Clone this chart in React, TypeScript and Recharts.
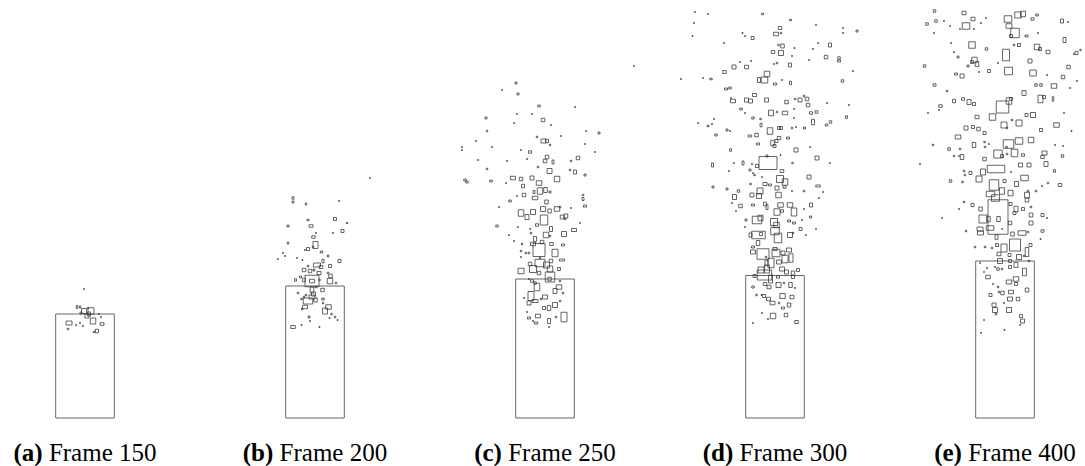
import React from "react";
import { ScatterChart, XAxis, YAxis, ReferenceArea } from "recharts";

type P = [number, number, number, number];

const frameLabels = ["(a)", "(b)", "(c)", "(d)", "(e)"];
const frameNumbers = [150, 200, 250, 300, 400];
const containerHalfWidth = 2.93;
const containerHeights = [10.4, 13.2, 13.9, 14.25, 15.7];
const xDomain: [number, number] = [-11.5, 11.5];
const yDomain: [number, number] = [0, 41.8];

// particle: [x centre, y centre, width, height]
const particles150: P[] = [
  [-0.8, 11.1, 0.15, 0.3], [-0.5, 11.1, 0.15, 0.2], [-0.1, 10.7, 0.5, 0.5], [0.6, 10.7, 0.6, 0.65],
  [0.2, 10.2, 0.4, 0.4], [0.4, 10.4, 0.3, 0.4], [0.8, 9.7, 0.55, 0.6], [-1.6, 9.5, 0.6, 0.4],
  [1.7, 9.4, 0.4, 0.25], [1.2, 8.7, 0.3, 0.35], [-1.7, 8.9, 0.15, 0.15], [-0.5, 9.5, 0.1, 0.1],
  [-0.2, 9.2, 0.1, 0.1], [-0.9, 9.3, 0.1, 0.1], [1.6, 10.1, 0.1, 0.1], [1.4, 10.4, 0.1, 0.1],
  [-0.4, 10.5, 0.2, 0.2], [0.9, 8.6, 0.15, 0.15], [0.3, 11.0, 0.1, 0.1], [-0.1, 12.9, 0.1, 0.1],
];

const particles200: P[] = [
  [-2.2, 22.0, 0.2, 0.25], [-2.2, 21.6, 0.2, 0.2], [-0.9, 21.4, 0.15, 0.2], [2.4, 21.7, 0.1, 0.1],
  [2.0, 19.9, 0.3, 0.3], [-0.7, 19.8, 0.2, 0.15], [3.2, 19.5, 0.15, 0.1], [-2.7, 19.2, 0.2, 0.2],
  [-0.4, 19.2, 0.4, 0.25], [2.75, 18.7, 0.3, 0.3], [1.8, 18.5, 0.1, 0.1], [0.1, 18.5, 0.1, 0.1],
  [-0.15, 18.1, 0.35, 0.25], [0.05, 17.3, 0.5, 0.7], [-2.7, 17.5, 0.15, 0.2], [-0.7, 16.9, 0.3, 0.3],
  [-0.2, 17.1, 0.15, 0.15], [0.65, 16.6, 0.25, 0.2], [-1.0, 16.8, 0.1, 0.1], [-3.0, 16.2, 0.1, 0.1],
  [-1.8, 16.0, 0.1, 0.1], [1.3, 16.2, 0.2, 0.15], [-1.25, 15.8, 0.1, 0.1], [-3.7, 15.9, 0.1, 0.1],
  [2.45, 15.7, 0.3, 0.3], [0.8, 15.7, 0.2, 0.35], [0.2, 15.3, 0.7, 0.4], [0.6, 15.1, 0.35, 0.3],
  [1.5, 15.2, 0.3, 0.3], [-0.7, 15.2, 0.15, 0.15], [-1.1, 14.8, 0.35, 0.35], [-0.5, 14.7, 0.35, 0.35],
  [-0.1, 14.8, 0.2, 0.2], [0.4, 14.5, 0.4, 0.3], [1.3, 14.5, 0.15, 0.15], [1.55, 14.2, 0.35, 0.35],
  [-1.45, 14.1, 0.2, 0.2], [-1.95, 13.8, 0.2, 0.25], [-1.1, 13.8, 0.3, 0.35], [-0.3, 13.7, 1.4, 1.15],
  [-0.3, 13.7, 0.5, 0.35], [1.5, 13.7, 0.55, 0.55], [0.45, 13.8, 0.15, 0.15], [2.1, 13.5, 0.15, 0.15],
  [0.1, 13.1, 0.15, 0.15], [-0.3, 12.8, 0.35, 0.6], [-1.7, 12.5, 0.15, 0.15], [-0.9, 12.3, 0.15, 0.15],
  [0.75, 12.8, 0.35, 0.35], [-0.15, 12.4, 0.4, 0.4], [-0.3, 12.1, 0.6, 0.4], [-0.7, 11.7, 0.95, 0.6],
  [0.05, 11.8, 0.35, 0.4], [-1.35, 11.9, 0.15, 0.15], [-1.1, 12.1, 0.15, 0.15], [0.8, 11.9, 0.25, 0.2],
  [0.8, 11.5, 0.15, 0.15], [-1.0, 11.1, 0.5, 0.35], [-1.3, 10.9, 0.15, 0.15], [1.35, 11.1, 0.55, 0.45],
  [1.0, 10.7, 0.5, 0.6], [2.0, 10.1, 0.15, 0.15], [1.65, 10.4, 0.15, 0.15], [2.25, 9.8, 0.1, 0.1],
  [-0.6, 10.1, 0.2, 0.2], [-0.5, 9.7, 0.1, 0.1], [-2.2, 9.1, 0.45, 0.3], [-1.35, 9.3, 0.1, 0.1],
  [0.45, 9.1, 0.1, 0.1], [1.45, 10.0, 0.1, 0.1], [5.5, 24.0, 0.1, 0.1], [-3.2, 16.5, 0.1, 0.1],
];

const particles250: P[] = [
  [-2.9, 33.5, 0.2, 0.2], [-4.3, 32.8, 0.1, 0.1], [-2.7, 32.4, 0.2, 0.2], [-0.6, 31.2, 0.25, 0.2],
  [3.0, 31.1, 0.1, 0.1], [-5.9, 30.0, 0.2, 0.2], [-2.8, 30.4, 0.1, 0.1], [-1.3, 30.4, 0.1, 0.1],
  [-0.2, 29.8, 0.35, 0.35], [-3.1, 29.5, 0.1, 0.1], [0.6, 29.3, 0.1, 0.1], [-5.8, 28.7, 0.15, 0.15],
  [4.1, 28.7, 0.1, 0.1], [5.4, 28.5, 0.2, 0.2], [-0.8, 28.1, 0.15, 0.15], [-0.15, 27.7, 0.5, 0.4],
  [0.2, 27.7, 0.3, 0.35], [1.6, 28.2, 0.1, 0.1], [-6.9, 27.7, 0.1, 0.1], [0.5, 27.3, 0.15, 0.15],
  [-8.3, 27.1, 0.1, 0.1], [-5.3, 27.1, 0.1, 0.1], [4.0, 27.4, 0.1, 0.1], [-2.4, 26.8, 0.1, 0.1],
  [-1.5, 26.6, 0.3, 0.25], [0.2, 26.1, 0.35, 0.35], [0.0, 25.7, 0.35, 0.35], [0.8, 25.6, 0.2, 0.4],
  [-1.8, 25.9, 0.1, 0.1], [2.6, 25.7, 0.15, 0.15], [3.3, 26.0, 0.35, 0.35], [5.0, 26.6, 0.1, 0.1],
  [-3.8, 25.7, 0.1, 0.1], [-0.7, 25.1, 0.15, 0.15], [0.45, 24.7, 0.5, 0.5], [-5.8, 24.9, 0.15, 0.15],
  [2.5, 24.8, 0.15, 0.15], [3.0, 24.6, 0.3, 0.4], [4.0, 24.3, 0.2, 0.2], [1.2, 23.9, 0.55, 0.55],
  [-3.2, 24.0, 0.5, 0.35], [-2.4, 23.9, 0.35, 0.35], [-1.3, 24.0, 0.4, 0.4], [-8.0, 23.8, 0.25, 0.2],
  [-5.4, 23.7, 0.25, 0.2], [-3.9, 23.5, 0.1, 0.1], [-0.6, 23.5, 0.55, 0.45], [-2.2, 23.2, 0.3, 0.35],
  [-0.5, 22.7, 0.55, 0.65], [0.05, 22.8, 0.35, 0.5], [0.5, 22.6, 0.2, 0.2], [-1.1, 22.6, 0.2, 0.3],
  [-2.1, 22.3, 0.35, 0.35], [-2.8, 22.2, 0.1, 0.1], [-1.0, 22.0, 0.55, 0.35], [3.8, 22.3, 0.15, 0.15],
  [3.8, 21.9, 0.2, 0.3], [0.15, 21.6, 0.35, 0.4], [-3.5, 21.7, 0.25, 0.2], [4.0, 21.2, 0.3, 0.2],
  [-4.6, 21.1, 0.1, 0.1], [-2.4, 20.5, 0.55, 0.65], [-1.8, 20.1, 0.4, 0.5], [-1.2, 20.6, 0.5, 0.5],
  [-0.2, 20.9, 0.5, 0.5], [0.45, 20.7, 0.35, 0.4], [1.2, 20.9, 0.55, 0.45], [1.5, 21.1, 0.15, 0.15],
  [-0.1, 19.8, 0.75, 1.0], [1.7, 20.1, 0.35, 0.4], [2.1, 20.2, 0.35, 0.4], [2.0, 19.9, 0.15, 0.15],
  [2.6, 21.0, 0.1, 0.1], [3.5, 19.5, 0.1, 0.1], [2.9, 18.8, 0.5, 0.3], [-4.8, 19.2, 0.25, 0.2],
  [-2.7, 19.1, 0.1, 0.1], [-0.8, 19.3, 0.3, 0.25], [0.6, 18.9, 0.3, 0.5], [-1.5, 18.9, 0.1, 0.1],
  [1.9, 18.4, 0.5, 0.5], [0.1, 18.3, 0.55, 0.55], [0.5, 18.2, 0.15, 0.15], [-3.6, 18.3, 0.1, 0.1],
  [-1.4, 18.5, 0.15, 0.15], [-1.0, 17.9, 0.3, 0.5], [-3.1, 17.7, 0.1, 0.1], [-0.3, 17.6, 0.35, 0.35],
  [-2.3, 17.4, 0.15, 0.15], [-1.2, 17.4, 0.5, 0.35], [0.65, 17.4, 0.35, 0.3], [1.8, 17.3, 0.3, 0.2],
  [-0.6, 16.8, 1.2, 1.3], [1.0, 16.5, 0.6, 0.75], [-2.4, 16.7, 0.15, 0.15], [-1.9, 16.5, 0.15, 0.15],
  [-2.4, 16.1, 0.1, 0.1], [-1.6, 16.5, 0.15, 0.15], [1.7, 15.8, 0.5, 0.2], [-0.5, 16.0, 0.15, 0.15],
  [-1.5, 15.4, 0.35, 0.35], [-0.5, 15.5, 1.0, 0.75], [0.15, 15.3, 0.6, 0.6], [0.6, 15.7, 0.35, 0.35],
  [-1.2, 14.9, 0.7, 0.7], [-2.4, 14.7, 0.6, 0.55], [-0.6, 14.5, 0.35, 0.35], [0.5, 14.9, 0.55, 0.6],
  [1.4, 14.9, 0.3, 0.3], [0.5, 14.1, 0.95, 1.0], [0.45, 13.9, 0.35, 0.35], [-1.3, 13.7, 0.3, 0.25],
  [-1.6, 13.9, 0.1, 0.1], [-1.0, 13.5, 0.25, 0.25], [1.5, 13.7, 0.15, 0.15], [-0.8, 13.1, 0.55, 0.75],
  [1.4, 13.1, 0.55, 0.45], [1.0, 12.7, 0.4, 0.5], [1.8, 12.5, 0.15, 0.15], [-1.4, 12.2, 0.6, 0.9],
  [0.0, 12.1, 0.5, 0.4], [-0.4, 11.9, 0.15, 0.15], [-2.1, 12.0, 0.1, 0.1], [1.5, 11.7, 0.15, 0.15],
  [-1.6, 11.5, 0.4, 0.4], [-1.0, 11.7, 0.6, 0.3], [1.0, 11.3, 0.5, 0.5], [0.4, 11.0, 0.35, 0.5],
  [-0.1, 11.0, 0.3, 0.3], [-0.7, 10.2, 0.5, 0.35], [1.9, 10.1, 0.6, 0.95], [-1.6, 10.0, 0.3, 0.2],
  [0.4, 9.7, 0.3, 0.5], [-0.9, 9.5, 0.35, 0.2], [1.1, 10.1, 0.15, 0.15], [-1.2, 9.7, 0.1, 0.1],
  [0.4, 9.1, 0.1, 0.1], [-1.8, 10.6, 0.1, 0.1], [-7.8, 23.6, 0.25, 0.2], [-8.3, 26.8, 0.1, 0.1],
  [8.9, 35.2, 0.1, 0.1], [-6.7, 25.8, 0.1, 0.1],
];

const particles300: P[] = [
  [-8.0, 40.6, 0.1, 0.1], [-6.7, 40.4, 0.1, 0.1], [-1.25, 40.4, 0.2, 0.15], [1.55, 39.8, 0.2, 0.15],
  [-8.1, 39.5, 0.1, 0.1], [4.1, 39.3, 0.1, 0.1], [0.5, 39.0, 0.35, 0.3], [6.8, 39.0, 0.1, 0.1],
  [8.2, 38.7, 0.2, 0.2], [0.1, 38.4, 0.5, 0.35], [0.6, 38.5, 0.15, 0.15], [-3.25, 38.5, 0.1, 0.1],
  [-3.0, 38.2, 0.1, 0.1], [-2.25, 38.0, 0.3, 0.3], [6.8, 38.5, 0.1, 0.1], [-8.25, 38.2, 0.1, 0.1],
  [-5.1, 37.5, 0.1, 0.1], [0.75, 37.2, 0.35, 0.4], [0.35, 37.3, 0.15, 0.15], [4.3, 37.5, 0.1, 0.1],
  [5.5, 37.3, 0.3, 0.4], [1.95, 37.0, 0.1, 0.1], [3.8, 36.9, 0.1, 0.1], [-0.2, 36.6, 0.35, 0.3],
  [0.6, 36.5, 0.5, 0.5], [5.1, 36.1, 0.35, 0.35], [6.4, 36.0, 0.25, 0.25], [6.4, 35.7, 0.3, 0.2],
  [1.7, 36.2, 0.1, 0.1], [3.4, 35.8, 0.1, 0.1], [-2.4, 35.7, 0.1, 0.1], [0.2, 35.5, 0.15, 0.15],
  [-4.1, 35.1, 0.4, 0.4], [-2.85, 35.1, 0.4, 0.35], [1.5, 35.3, 0.3, 0.4], [-5.05, 34.6, 0.35, 0.3],
  [-3.5, 35.6, 0.1, 0.1], [-0.1, 35.4, 0.1, 0.1], [-0.8, 34.4, 0.55, 0.55], [-1.05, 33.8, 0.65, 0.6],
  [-1.6, 33.8, 0.3, 0.5], [-9.4, 33.9, 0.1, 0.1], [-7.2, 34.0, 0.1, 0.1], [-6.4, 33.9, 0.25, 0.15],
  [0.7, 33.8, 0.1, 0.1], [1.55, 33.5, 0.2, 0.35], [0.0, 33.4, 0.3, 0.2], [6.75, 33.7, 0.25, 0.25],
  [7.8, 34.7, 0.1, 0.1], [-4.9, 32.9, 0.3, 0.2], [-4.5, 33.0, 0.25, 0.2], [-2.05, 32.3, 0.4, 0.3],
  [-4.2, 31.7, 0.5, 0.35], [-4.4, 32.0, 0.1, 0.1], [-2.85, 31.8, 0.4, 0.4], [-2.45, 31.7, 0.4, 0.4],
  [-0.85, 31.8, 0.4, 0.4], [1.15, 31.6, 0.35, 0.35], [2.0, 31.9, 0.15, 0.15], [2.5, 31.8, 0.4, 0.4],
  [3.2, 31.9, 0.35, 0.35], [3.3, 31.3, 0.35, 0.35], [2.9, 32.2, 0.15, 0.15], [5.2, 31.5, 0.1, 0.1],
  [7.4, 31.3, 0.1, 0.1], [-3.4, 30.9, 0.25, 0.2], [-3.0, 30.5, 0.1, 0.1], [-0.4, 30.5, 0.5, 0.55],
  [0.2, 30.6, 0.15, 0.15], [1.0, 30.5, 0.55, 0.35], [1.9, 30.9, 0.1, 0.1], [3.6, 30.5, 0.3, 0.25],
  [4.15, 30.6, 0.3, 0.25], [-2.2, 30.0, 0.25, 0.2], [-1.45, 29.9, 0.15, 0.15], [1.9, 30.0, 0.1, 0.1],
  [-6.1, 29.9, 0.1, 0.1], [-7.7, 29.5, 0.1, 0.1], [-6.7, 29.2, 0.2, 0.15], [-6.3, 29.4, 0.1, 0.1],
  [-1.4, 29.3, 0.2, 0.35], [3.8, 29.6, 0.3, 0.55], [5.15, 29.3, 0.25, 0.2], [5.55, 29.6, 0.25, 0.25],
  [7.15, 30.1, 0.2, 0.25], [-4.8, 28.8, 0.2, 0.2], [-4.5, 28.7, 0.1, 0.1], [-0.5, 28.7, 0.55, 0.65],
  [0.4, 29.0, 0.3, 0.3], [0.6, 29.0, 0.3, 0.3], [1.7, 29.0, 0.15, 0.15], [2.1, 29.1, 0.1, 0.1],
  [2.95, 29.0, 0.2, 0.2], [-5.9, 28.3, 0.25, 0.2], [-2.5, 28.2, 0.35, 0.2], [-1.85, 28.3, 0.35, 0.35],
  [0.4, 28.0, 0.35, 0.3], [1.3, 28.0, 0.3, 0.2], [-0.25, 27.5, 0.35, 0.55], [0.15, 27.7, 0.3, 0.3],
  [-1.7, 27.4, 0.3, 0.2], [-0.05, 27.2, 0.3, 0.3], [2.1, 26.8, 0.4, 0.4], [-4.45, 26.8, 0.2, 0.25],
  [3.5, 27.1, 0.1, 0.1], [4.2, 26.0, 0.4, 0.4], [0.55, 26.3, 0.1, 0.1], [-0.7, 25.5, 1.8, 1.3],
  [-0.8, 26.2, 0.2, 0.2], [-3.2, 25.5, 0.2, 0.4], [-4.1, 25.5, 0.1, 0.1], [-1.8, 25.2, 0.3, 0.3],
  [-2.3, 25.4, 0.1, 0.1], [-6.25, 25.3, 0.2, 0.4], [1.75, 25.5, 0.15, 0.15], [0.7, 24.7, 0.35, 0.3],
  [-2.5, 24.8, 0.2, 0.2], [-2.2, 24.5, 0.1, 0.1], [-4.6, 24.7, 0.1, 0.1], [5.5, 25.5, 0.1, 0.1],
  [3.4, 24.1, 0.4, 0.4], [-2.05, 24.3, 0.15, 0.15], [-1.3, 24.1, 0.1, 0.1], [0.5, 23.9, 0.7, 0.7],
  [1.0, 23.6, 0.55, 0.65], [-1.0, 23.4, 0.4, 0.3], [-0.5, 23.3, 0.3, 0.2], [4.3, 23.2, 0.45, 0.2],
  [-2.45, 23.4, 0.15, 0.15], [-6.2, 23.1, 0.2, 0.2], [-4.8, 22.9, 0.2, 0.2], [-3.65, 22.7, 0.25, 0.25],
  [-1.5, 22.7, 0.6, 0.6], [0.2, 23.0, 0.4, 0.4], [0.95, 23.1, 0.3, 0.25], [1.7, 22.7, 0.1, 0.1],
  [2.9, 22.7, 0.15, 0.15], [4.8, 22.6, 0.1, 0.1], [-4.05, 22.1, 0.4, 0.5], [-2.3, 22.3, 0.4, 0.4],
  [-1.6, 22.2, 0.5, 0.5], [0.35, 22.3, 0.55, 0.55], [4.4, 22.0, 0.1, 0.1], [-4.3, 21.5, 0.1, 0.1],
  [-3.45, 21.2, 0.35, 0.35], [-2.2, 21.3, 0.3, 0.2], [-1.0, 21.4, 0.3, 0.35], [-0.8, 21.1, 0.2, 0.5],
  [0.55, 21.3, 0.55, 0.45], [1.5, 21.3, 0.55, 0.45], [1.9, 20.6, 0.55, 0.8], [0.2, 20.6, 0.6, 0.65],
  [0.7, 20.7, 0.3, 0.25], [3.6, 21.3, 0.3, 0.4], [2.9, 20.9, 0.1, 0.1], [3.55, 20.1, 0.2, 0.2],
  [2.7, 19.8, 0.1, 0.1], [-3.9, 20.7, 0.1, 0.1], [-1.45, 20.0, 0.5, 0.55], [-1.8, 19.8, 0.95, 0.75],
  [-2.9, 19.8, 0.2, 0.2], [-3.0, 19.1, 0.1, 0.1], [-0.1, 19.6, 0.7, 0.7], [0.15, 19.3, 0.55, 0.55],
  [1.4, 19.7, 0.3, 0.2], [1.9, 19.5, 0.3, 0.2], [2.55, 18.9, 0.3, 0.3], [4.1, 18.9, 0.1, 0.1],
  [-1.65, 18.3, 1.35, 0.75], [-2.45, 18.3, 0.3, 0.4], [-1.4, 18.4, 0.3, 0.3], [0.0, 18.7, 0.85, 0.75],
  [0.3, 18.0, 0.75, 0.95], [1.5, 18.3, 0.5, 0.5], [1.8, 18.5, 0.15, 0.15], [3.1, 18.3, 0.1, 0.1],
  [-1.7, 17.5, 0.35, 0.5], [-2.2, 17.1, 0.3, 0.2], [-2.2, 16.6, 0.5, 0.4], [-1.2, 16.4, 1.2, 1.05],
  [0.0, 16.9, 0.4, 0.3], [0.1, 16.5, 0.8, 0.75], [0.8, 16.5, 0.4, 0.4], [1.4, 16.8, 0.5, 0.4],
  [1.6, 16.0, 0.4, 0.85], [1.0, 15.9, 0.6, 0.75], [-0.9, 16.1, 0.15, 0.15], [-0.4, 15.5, 0.6, 0.95],
  [-0.85, 15.5, 0.3, 0.55], [0.4, 15.6, 0.5, 0.4], [-1.4, 14.8, 0.6, 0.6], [-0.8, 14.9, 0.5, 0.8],
  [-1.05, 14.3, 1.45, 1.0], [0.7, 14.9, 0.5, 0.4], [1.15, 14.6, 0.4, 0.4], [1.8, 14.5, 0.35, 0.4],
  [2.3, 14.8, 0.3, 0.3], [1.8, 14.1, 0.3, 0.3], [-2.05, 14.2, 0.3, 0.3], [0.3, 14.1, 0.3, 0.25],
  [-0.45, 13.9, 0.4, 0.8], [-1.0, 13.4, 0.35, 0.3], [0.35, 13.3, 0.5, 0.5], [1.55, 13.3, 0.35, 0.5],
  [-0.6, 13.1, 0.4, 0.35], [-2.2, 13.1, 0.25, 0.2], [0.9, 13.5, 0.15, 0.15], [2.0, 13.0, 0.1, 0.1],
  [0.75, 12.2, 0.55, 0.5], [1.7, 12.1, 0.4, 0.35], [-0.65, 11.9, 0.4, 0.35], [-1.1, 12.2, 0.3, 0.3],
  [-1.85, 12.3, 0.15, 0.15], [-0.25, 11.5, 0.5, 0.35], [0.4, 11.5, 0.15, 0.15], [1.4, 11.3, 0.35, 0.4],
  [0.8, 11.0, 0.3, 0.2], [-0.2, 10.2, 0.55, 0.55], [1.1, 10.3, 0.35, 0.35], [-1.3, 10.5, 0.1, 0.1],
  [-0.7, 9.9, 0.1, 0.1], [2.15, 9.6, 0.35, 0.3], [-2.2, 9.5, 0.1, 0.1], [-1.35, 12.3, 0.1, 0.1],
];

const particles400: P[] = [
  [-7.05, 40.7, 0.25, 0.25], [-4.1, 40.5, 0.4, 0.35], [1.3, 40.3, 0.65, 0.6], [1.8, 40.4, 0.5, 0.55],
  [3.2, 40.3, 0.25, 0.2], [0.3, 39.9, 0.75, 0.65], [-3.2, 39.9, 0.4, 0.35], [-1.9, 40.0, 0.1, 0.1],
  [2.75, 39.9, 0.3, 0.25], [5.7, 39.7, 0.3, 0.4], [6.3, 39.6, 0.1, 0.1], [-7.8, 39.4, 0.25, 0.25],
  [-6.9, 39.7, 0.25, 0.25], [-6.1, 39.7, 0.1, 0.1], [-5.5, 39.2, 0.1, 0.1], [-3.9, 39.2, 0.75, 0.65],
  [-4.5, 38.9, 0.1, 0.1], [-3.1, 38.9, 0.1, 0.1], [-2.4, 39.5, 0.1, 0.1], [0.4, 39.2, 0.6, 0.45],
  [1.0, 38.5, 0.85, 0.95], [0.6, 38.2, 0.3, 0.3], [2.15, 38.2, 0.3, 0.2], [3.3, 38.5, 0.1, 0.1],
  [5.95, 37.8, 0.3, 0.5], [8.1, 38.3, 0.1, 0.1], [-7.1, 38.5, 0.1, 0.1], [-5.4, 37.5, 0.1, 0.1],
  [-3.3, 37.3, 0.65, 0.65], [-1.85, 36.9, 0.25, 0.25], [1.4, 37.3, 0.3, 0.3], [0.9, 37.3, 0.15, 0.15],
  [3.2, 37.1, 0.55, 0.55], [3.5, 36.9, 0.3, 0.3], [4.3, 36.6, 0.4, 0.35], [7.15, 36.5, 0.3, 0.3],
  [7.55, 36.8, 0.15, 0.15], [6.9, 36.4, 0.1, 0.1], [0.1, 36.3, 0.7, 1.15], [-5.1, 36.6, 0.1, 0.1],
  [-4.7, 36.1, 0.2, 0.2], [-3.05, 35.8, 0.55, 0.55], [-2.8, 35.4, 0.35, 0.5], [-3.3, 35.6, 0.3, 0.3],
  [-3.7, 35.2, 0.2, 0.2], [2.5, 35.7, 0.4, 0.4], [-0.7, 35.5, 0.1, 0.1], [6.35, 35.1, 0.35, 0.35],
  [-8.05, 35.2, 0.25, 0.25], [-4.3, 34.2, 0.4, 0.4], [-4.9, 34.4, 0.3, 0.2], [-2.6, 34.6, 0.1, 0.1],
  [-1.6, 34.7, 0.3, 0.3], [0.35, 34.7, 0.8, 0.75], [2.8, 34.5, 0.65, 0.6], [4.2, 34.3, 0.1, 0.1],
  [5.8, 34.1, 0.35, 0.35], [-7.05, 33.3, 0.3, 0.25], [3.1, 33.3, 0.25, 0.25], [3.6, 33.3, 0.25, 0.25],
  [4.9, 33.2, 0.55, 0.45], [6.5, 33.0, 0.1, 0.1], [7.2, 33.7, 0.1, 0.1], [-5.8, 32.7, 0.15, 0.15],
  [1.9, 32.5, 0.4, 0.5], [-4.2, 31.9, 0.3, 0.25], [-3.6, 31.6, 0.4, 0.5], [-3.1, 31.4, 0.3, 0.3],
  [-5.1, 31.7, 0.3, 0.35], [-6.45, 31.2, 0.35, 0.25], [-6.6, 30.8, 0.1, 0.1], [0.6, 31.9, 0.3, 0.3],
  [0.4, 31.7, 0.55, 0.65], [-0.25, 31.1, 1.25, 1.2], [3.55, 31.9, 0.5, 0.75], [3.9, 32.1, 0.3, 0.3],
  [4.8, 31.9, 0.15, 0.45], [-7.7, 30.5, 0.1, 0.1], [-2.8, 30.1, 0.4, 0.35], [-1.25, 30.1, 0.65, 0.65],
  [2.15, 30.3, 0.3, 0.3], [2.8, 30.3, 0.5, 0.5], [5.9, 30.5, 0.1, 0.1], [-3.9, 29.0, 0.4, 0.4],
  [-3.2, 29.1, 0.3, 0.3], [-2.65, 28.9, 0.35, 0.35], [-2.05, 28.5, 0.3, 0.3], [-0.1, 29.3, 0.6, 0.6],
  [0.2, 29.0, 0.15, 0.15], [1.4, 29.5, 0.6, 0.6], [0.7, 29.8, 0.15, 0.15], [3.6, 28.8, 0.3, 0.3],
  [5.15, 29.3, 0.55, 0.45], [6.65, 28.7, 0.1, 0.1], [-4.7, 28.1, 0.55, 0.4], [0.35, 27.4, 1.05, 0.85],
  [1.4, 27.7, 0.75, 0.65], [0.15, 27.1, 0.15, 0.15], [2.6, 27.8, 0.55, 0.55], [-3.1, 27.3, 0.35, 0.5],
  [-2.05, 27.6, 0.15, 0.15], [-2.0, 27.1, 0.15, 0.15], [-1.6, 27.4, 0.1, 0.1], [-7.2, 27.3, 0.15, 0.15],
  [-5.6, 26.9, 0.25, 0.25], [-4.5, 26.9, 0.15, 0.15], [-5.1, 26.2, 0.15, 0.15], [-4.3, 26.1, 0.35, 0.5],
  [-4.6, 26.2, 0.1, 0.1], [-2.05, 25.9, 0.35, 0.35], [-0.7, 26.4, 0.85, 0.8], [-0.3, 26.2, 0.3, 0.3],
  [0.2, 26.4, 0.15, 0.15], [0.95, 26.5, 0.65, 0.75], [1.8, 26.3, 0.3, 0.25], [3.95, 26.5, 0.5, 0.4],
  [3.75, 26.1, 0.35, 0.3], [5.0, 27.3, 0.1, 0.1], [5.8, 27.2, 0.1, 0.1], [5.75, 26.2, 0.25, 0.25],
  [4.1, 25.4, 0.4, 0.5], [1.55, 25.3, 0.4, 0.4], [2.4, 25.3, 0.4, 0.4], [-0.9, 24.9, 1.75, 0.75],
  [-2.2, 24.6, 0.5, 0.6], [-3.45, 24.5, 0.3, 0.3], [-4.1, 24.7, 0.15, 0.15], [-4.0, 24.3, 0.15, 0.15],
  [4.95, 24.7, 0.2, 0.25], [0.6, 24.6, 0.1, 0.1], [-8.5, 25.4, 0.1, 0.1], [-5.45, 23.7, 0.25, 0.25],
  [-4.25, 23.6, 0.15, 0.15], [-2.6, 23.9, 0.6, 0.6], [-1.1, 23.3, 0.95, 1.05], [-0.05, 23.7, 0.3, 0.3],
  [1.15, 23.4, 0.4, 0.5], [1.95, 24.0, 0.75, 0.55], [4.3, 23.5, 0.15, 0.15], [5.5, 23.3, 0.35, 0.3],
  [3.7, 23.2, 0.1, 0.1], [-0.3, 22.7, 0.5, 0.65], [0.55, 22.5, 0.5, 0.55], [-1.45, 22.4, 0.85, 0.55],
  [-0.95, 22.0, 0.8, 0.65], [2.2, 22.3, 0.5, 0.55], [2.3, 22.7, 0.15, 0.15], [3.1, 22.7, 0.15, 0.15],
  [2.2, 21.8, 0.35, 0.4], [-0.7, 20.1, 2.0, 3.45], [-3.25, 21.3, 0.3, 0.3], [-2.45, 20.9, 0.35, 0.4],
  [-4.1, 21.6, 0.15, 0.15], [-4.6, 20.9, 0.1, 0.1], [0.55, 21.4, 0.3, 0.3], [1.1, 20.9, 0.4, 0.55],
  [0.95, 20.5, 0.3, 0.3], [1.8, 20.9, 0.3, 0.3], [2.6, 21.1, 0.15, 0.15], [2.6, 20.3, 0.35, 0.4],
  [3.75, 20.3, 0.3, 0.3], [4.2, 20.0, 0.1, 0.1], [-6.3, 20.0, 0.1, 0.1], [-2.2, 19.9, 0.8, 0.8],
  [-1.65, 19.9, 0.35, 0.55], [-0.65, 19.9, 0.35, 0.5], [0.5, 19.5, 0.35, 0.35], [2.6, 19.5, 0.4, 0.4],
  [-2.5, 18.9, 0.6, 0.4], [-1.5, 19.0, 0.75, 0.45], [-2.45, 18.5, 0.6, 0.4], [-3.9, 18.7, 0.15, 0.15],
  [-0.3, 18.9, 0.1, 0.1], [3.75, 18.7, 0.3, 0.25], [3.55, 17.9, 0.1, 0.1], [0.75, 18.4, 0.35, 0.4],
  [1.7, 18.5, 0.8, 0.45], [2.3, 18.6, 0.15, 0.15], [-0.85, 18.1, 0.3, 0.45], [-0.8, 17.3, 0.3, 0.3],
  [1.0, 17.3, 1.1, 1.2], [-0.1, 17.0, 0.6, 0.8], [-2.0, 17.1, 0.15, 0.15], [-3.0, 17.1, 0.15, 0.15],
  [-1.3, 17.0, 0.15, 0.15], [2.55, 17.3, 0.3, 0.3], [2.2, 16.6, 0.35, 0.9], [1.4, 16.1, 0.5, 0.5],
  [0.45, 16.3, 0.3, 0.3], [-0.6, 16.4, 0.4, 0.35], [0.5, 15.7, 0.3, 0.3], [-0.5, 15.7, 0.5, 0.5],
  [1.9, 16.2, 0.15, 0.15], [2.4, 15.7, 0.15, 0.15], [1.1, 15.3, 0.4, 0.5], [0.5, 15.1, 0.3, 0.3],
  [-1.0, 15.1, 0.1, 0.1], [-0.7, 14.9, 0.25, 0.25], [-1.8, 15.0, 0.1, 0.1], [-2.5, 15.5, 0.1, 0.1],
  [-2.1, 14.6, 0.1, 0.1], [-0.3, 14.9, 0.15, 0.15], [1.95, 14.6, 0.4, 0.75], [-1.7, 14.1, 0.45, 0.35],
  [0.4, 13.6, 0.55, 0.4], [1.1, 13.9, 0.55, 0.45], [1.1, 13.4, 0.3, 0.3], [-1.2, 13.4, 0.1, 0.1],
  [-0.7, 13.1, 0.15, 0.15], [2.2, 12.8, 0.35, 0.4], [0.6, 12.6, 0.5, 0.35], [-0.25, 12.5, 0.35, 0.35],
  [-0.6, 12.6, 0.15, 0.15], [-1.45, 12.3, 0.3, 0.3], [0.5, 11.9, 0.5, 0.4], [1.3, 11.9, 0.35, 0.35],
  [-0.1, 11.5, 0.1, 0.1], [-1.1, 11.3, 0.4, 0.4], [-1.0, 10.8, 0.5, 0.5], [0.4, 10.8, 0.5, 0.5],
  [-0.9, 10.4, 0.15, 0.15], [1.6, 10.2, 0.3, 0.3], [1.75, 9.7, 0.4, 0.4], [1.5, 9.3, 0.1, 0.1],
  [-2.1, 9.8, 0.1, 0.1], [-0.05, 8.8, 0.1, 0.1], [-2.4, 8.5, 0.1, 0.1],
];

const allParticles: P[][] = [particles150, particles200, particles250, particles300, particles400];

const CHART_W = 230;
const CHART_H = 420;
const panelCenters = [85, 315, 545, 775, 1005];

function Panel({ index }: { index: number }) {
  const parts = allParticles[index];
  return (
    <ScatterChart
      width={CHART_W}
      height={CHART_H}
      margin={{ top: 0, right: 0, bottom: 2, left: 0 }}
    >
      <XAxis type="number" dataKey="x" domain={xDomain} hide allowDataOverflow />
      <YAxis type="number" dataKey="y" domain={yDomain} hide allowDataOverflow />
      <ReferenceArea
        x1={-containerHalfWidth}
        x2={containerHalfWidth}
        y1={0}
        y2={containerHeights[index]}
        fill="none"
        fillOpacity={0}
        stroke="#666"
        strokeWidth={1}
        ifOverflow="visible"
      />
      {parts.map(([x, y, w, h], i) => (
        <ReferenceArea
          key={i}
          x1={x - w / 2}
          x2={x + w / 2}
          y1={y - h / 2}
          y2={y + h / 2}
          fill="none"
          fillOpacity={0}
          stroke="#333"
          strokeWidth={0.75}
          ifOverflow="visible"
        />
      ))}
    </ScatterChart>
  );
}

export default function App() {
  return (
    <div
      style={{
        position: "absolute",
        left: 0,
        top: 0,
        width: 1085,
        height: 466,
        background: "#fff",
        overflow: "hidden",
      }}
    >
      {frameNumbers.map((f, i) => (
        <div
          key={"p" + i}
          style={{ position: "absolute", left: panelCenters[i] - CHART_W / 2, top: 0 }}
        >
          <Panel index={i} />
        </div>
      ))}
      {frameNumbers.map((f, i) => (
        <div
          key={"c" + i}
          style={{
            position: "absolute",
            left: panelCenters[i] - 110,
            width: 220,
            top: 440,
            textAlign: "center",
            fontFamily: "'Liberation Serif', 'Times New Roman', serif",
            fontSize: 25,
            lineHeight: "25px",
            color: "#000",
            whiteSpace: "nowrap",
          }}
        >
          <span style={{ fontWeight: "bold" }}>{frameLabels[i]}</span> Frame {f}
        </div>
      ))}
    </div>
  );
}
